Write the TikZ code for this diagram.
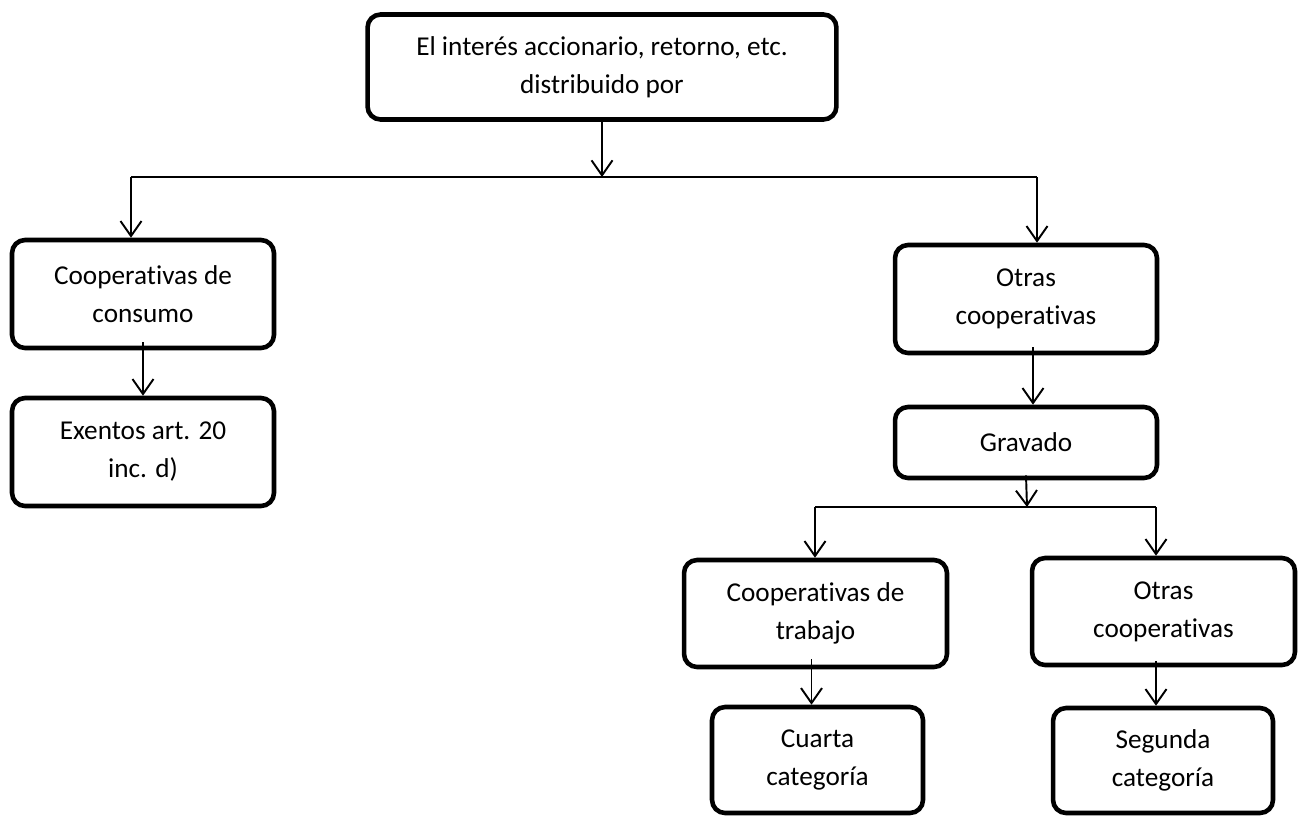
\documentclass[tikz,border=0pt]{standalone}
\usepackage{fontspec}
\setmainfont{Carlito}[Ligatures={NoCommon,NoContextual,NoRare},RawFeature={-liga;-calt;-dlig}]
\usetikzlibrary{arrows.meta,positioning}
\tikzset{>={Straight Barb[length=0.3cm,width=0.42cm]}}
\tikzset{caja/.style={draw=black,line width=2.6pt,rounded corners=0.26cm,align=center,inner sep=2pt,font=\fontsize{15.5}{21.6}\selectfont}}
\tikzset{flecha/.style={->,line width=1.1pt}}
\tikzset{linea/.style={line width=1.1pt}}

\begin{document}
\begin{tikzpicture}[x=0.02cm,y=-0.02cm]
                \useasboundingbox (0,0) rectangle (1301,815);
                \node[caja,minimum width=9.38cm,minimum height=2.1cm] (interes) at (602,67) {El interés accionario, retorno, etc.\\distribuido por};
                \node[caja,minimum width=5.24cm,minimum height=2.16cm] (consumo) at (143,294) {Cooperativas de\\consumo};
                \node[caja,minimum width=5.24cm,minimum height=2.16cm] (exentos) at (143,452) {Exentos art. 20\\inc. d)};
                \node[caja,minimum width=5.24cm,minimum height=2.16cm] (otras) at (1026,299) {Otras\\cooperativas};
                \node[caja,minimum width=5.24cm,minimum height=1.42cm] (gravado) at (1026,442.5) {Gravado};
                \node[caja,minimum width=5.26cm,minimum height=2.14cm] (trabajo) at (815.5,613.5) {Cooperativas de\\trabajo};
                \node[caja,minimum width=5.26cm,minimum height=2.14cm] (otrasb) at (1163.5,611.5) {Otras\\cooperativas};
                \node[caja,minimum width=4.22cm,minimum height=2.12cm] (cuarta) at (817.5,760) {Cuarta\\categoría};
                \node[caja,minimum width=4.4cm,minimum height=2.1cm] (segunda) at (1163,760.5) {Segunda\\categoría};
                \coordinate (bus1) at (602,177);
                \coordinate (bus1L) at (131,177);
                \coordinate (bus1R) at (1037,177);
                \coordinate (bus2) at (1027,507);
                \coordinate (bus2L) at (815,507);
                \coordinate (bus2R) at (1156,507);
                \draw[flecha] (interes.south) -- (bus1);
                \draw[linea] (bus1L) -- (bus1R);
                \draw[flecha] (bus1L) -- (bus1L |- consumo.north);
                \draw[flecha] (bus1R) -- (bus1R |- otras.north);
                \draw[flecha] ([yshift=0.16cm]consumo.south) -- (exentos.north);
                \draw[flecha] ([xshift=0.14cm,yshift=0.16cm]otras.south) -- ([xshift=0.14cm]gravado.north);
                \draw[flecha] ([yshift=0.1cm]gravado.south) -- (bus2);
                \draw[linea] (bus2L) -- (bus2R);
                \draw[flecha] (bus2L) -- (bus2L |- trabajo.north);
                \draw[flecha] (bus2R) -- (bus2R |- otrasb.north);
                \draw[flecha] ([xshift=-0.08cm,yshift=0.2cm]trabajo.south) -- ([xshift=-0.08cm]trabajo.south |- cuarta.north);
                \draw[flecha] ([yshift=0.12cm]bus2R |- otrasb.south) -- (bus2R |- segunda.north);
            \end{tikzpicture}
\end{document}
